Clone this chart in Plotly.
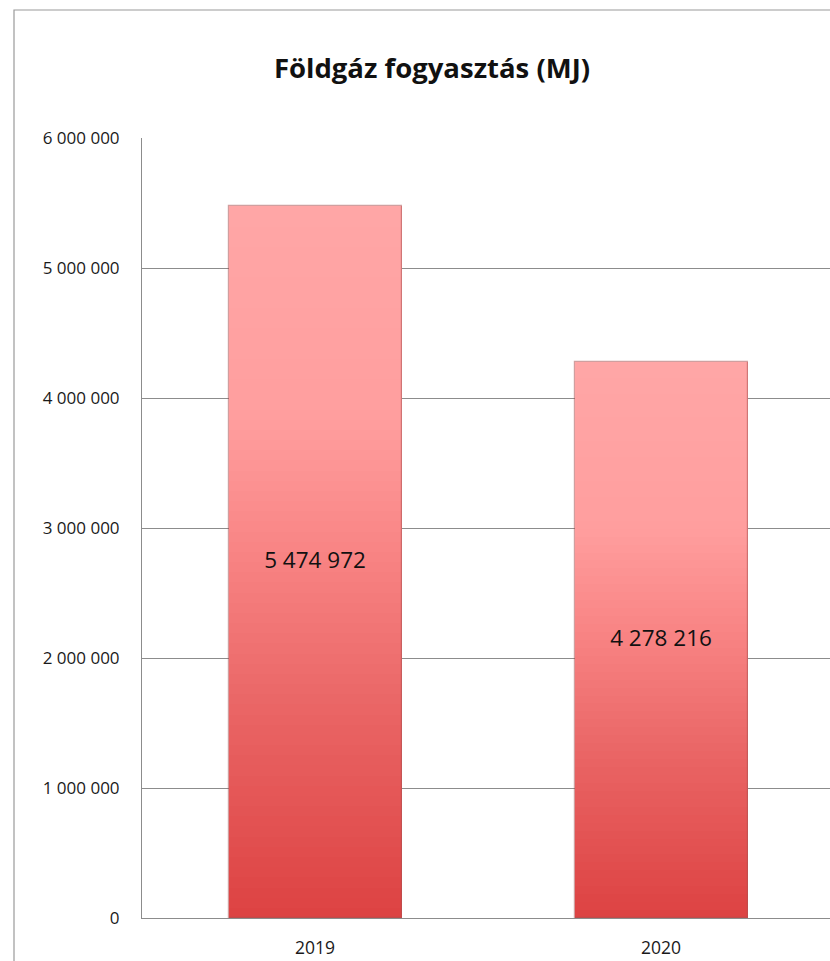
import plotly.graph_objects as go

categories = ["2019", "2020"]
values = [5474972, 4278216]
value_labels = ["5 474 972", "4 278 216"]
y_ticks = [0, 1000000, 2000000, 3000000, 4000000, 5000000, 6000000]
title_text = "Földgáz fogyasztás (MJ)"

FONT = "Open Sans"
# gradient stops: (position from top of bar 0..1, rgb)
stops = [(0.0, (255, 166, 166)), (0.3, (255, 158, 158)), (0.5, (248, 130, 130)),
         (0.7, (234, 102, 102)), (1.0, (221, 67, 67))]

def color_at(t):
    for (p0, c0), (p1, c1) in zip(stops[:-1], stops[1:]):
        if p0 <= t <= p1:
            u = (t - p0) / (p1 - p0) if p1 > p0 else 0
            return tuple(int(round(c0[i] + (c1[i] - c0[i]) * u)) for i in range(3))
    return stops[-1][1]

W, H = 830, 961
PL, PT, PB = 142, 138, 918  # plot area in px
CAT_W = 346                 # px per category
plot_w = W - PL
plot_h = PB - PT

fig = go.Figure()
N = 70
for k in range(N):
    frac = 1 - k / N
    c = color_at(k / (N - 1))
    fig.add_trace(go.Bar(
        x=categories, y=[v * frac for v in values],
        width=0.5,
        marker=dict(color="rgb(%d,%d,%d)" % c, line=dict(width=0)),
        hoverinfo="skip", showlegend=False,
    ))

# outline
fig.add_trace(go.Bar(
    x=categories, y=values, width=0.5,
    marker=dict(color="rgba(0,0,0,0)", line=dict(color="rgba(170,80,80,0.55)", width=1.2)),
    showlegend=False, hoverinfo="skip",
))

# data labels
fig.add_trace(go.Scatter(
    x=categories, y=[v / 2 for v in values], mode="text",
    text=value_labels, textposition="middle center",
    textfont=dict(family=FONT, size=22.5, color="#111111"),
    showlegend=False, hoverinfo="skip",
))

fig.update_layout(
    width=W, height=H,
    margin=dict(l=PL, r=0, t=PT, b=H - PB),
    barmode="overlay",
    bargap=0,
    plot_bgcolor="white", paper_bgcolor="white",
    separators=", ",
    font=dict(family=FONT, size=17, color="#1a1a1a"),
    title=dict(text="<b>%s</b>" % title_text, x=432 / W, xanchor="center",
               y=1 - 68 / H, yanchor="middle",
               font=dict(family=FONT, size=27.5, color="#111111")),
    showlegend=False,
)
fig.update_xaxes(
    type="category", range=[-0.5, -0.5 + plot_w / CAT_W],
    showgrid=False, showline=True, linecolor="#8c8c8c", linewidth=1,
    ticks="", ticklabelstandoff=14,
    tickfont=dict(family=FONT, size=17.5, color="#1a1a1a"),
)
fig.update_yaxes(
    range=[0, 6000000], tickvals=y_ticks, tickformat=",d",
    showgrid=True, gridcolor="#8c8c8c", gridwidth=1,
    showline=True, linecolor="#8c8c8c", linewidth=1,
    zeroline=False, ticks="", ticklabelstandoff=18,
    tickfont=dict(family=FONT, size=17, color="#1a1a1a"),
)

# outer chart border (cropped on right and bottom)
fig.add_shape(type="rect", xref="paper", yref="paper",
              x0=(14 - PL) / plot_w, x1=1.05, y0=-0.1, y1=(PB - 10) / plot_h,
              line=dict(color="#9a9a9a", width=1.2), fillcolor="rgba(0,0,0,0)",
              layer="below")

fig.write_html(
    "out.html",
    config={"displayModeBar": False},
    post_script="document.body.style.margin='0';document.body.style.overflow='hidden';",
)
